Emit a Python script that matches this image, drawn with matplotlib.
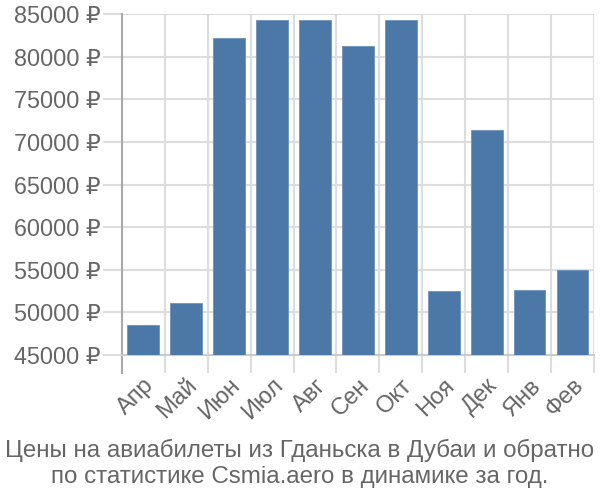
import matplotlib
matplotlib.use('Agg')
import matplotlib.pyplot as plt
import numpy as np

months = ['Апр', 'Май', 'Июн', 'Июл', 'Авг', 'Сен', 'Окт', 'Ноя', 'Дек', 'Янв', 'Фев']
prices = [48500, 51100, 82200, 84300, 84300, 81300, 84250, 52500, 71400, 52600, 55000]
yticks = [45000, 50000, 55000, 60000, 65000, 70000, 75000, 80000, 85000]
title = 'Цены на авиабилеты из Гданьска в Дубаи и обратно\nпо статистике Csmia.aero в динамике за год.'

plt.rcParams['font.family'] = ['Liberation Sans', 'DejaVu Sans']
text_color = '#666666'
grid_color = '#dddddd'

fig = plt.figure(figsize=(6, 5), dpi=100)
ax = fig.add_axes([0.203, 0.29, 0.787, 0.682])

x = np.arange(len(months))
ax.bar(x, prices, width=0.74, color='#4c78a8', edgecolor='#6f92ba', linewidth=0.6, zorder=3)

ax.set_xlim(-0.5, len(months) - 0.5)
ax.set_ylim(45000, 85000)

# y axis
ax.set_yticks(yticks)
ax.set_yticklabels(['%d ₽' % v for v in yticks])
ax.tick_params(axis='y', length=14, width=1.5, color=grid_color, labelsize=16.8,
               labelcolor=text_color, pad=1)
ax.yaxis.grid(True, color=grid_color, linewidth=1.5, zorder=0)

# x axis: labels at centers, gridlines and tick marks at boundaries
ax.set_xticks(x)
ax.set_xticklabels(months, rotation=45, ha='right', rotation_mode='anchor')
ax.tick_params(axis='x', which='major', length=0, labelsize=17, labelcolor=text_color, pad=14)
ax.set_xticks(np.arange(-0.5, len(months)), minor=True)
ax.tick_params(axis='x', which='minor', length=13, width=1.5, color=grid_color)
ax.xaxis.grid(True, which='minor', color=grid_color, linewidth=1.5, zorder=0)

for s in ['top', 'right']:
    ax.spines[s].set_visible(False)
ax.spines['left'].set_color('#aaaaaa')
ax.spines['left'].set_linewidth(1.5)
ax.spines['left'].set_bounds(45000 - 2100, 85000)
ax.spines['bottom'].set_color('#cccccc')
ax.spines['bottom'].set_linewidth(1.5)

fig.text(0.5, 0.024, title, ha='center', va='bottom', fontsize=17.4,
         color=text_color, linespacing=1.25)

fig.savefig('out.png', dpi=100)
